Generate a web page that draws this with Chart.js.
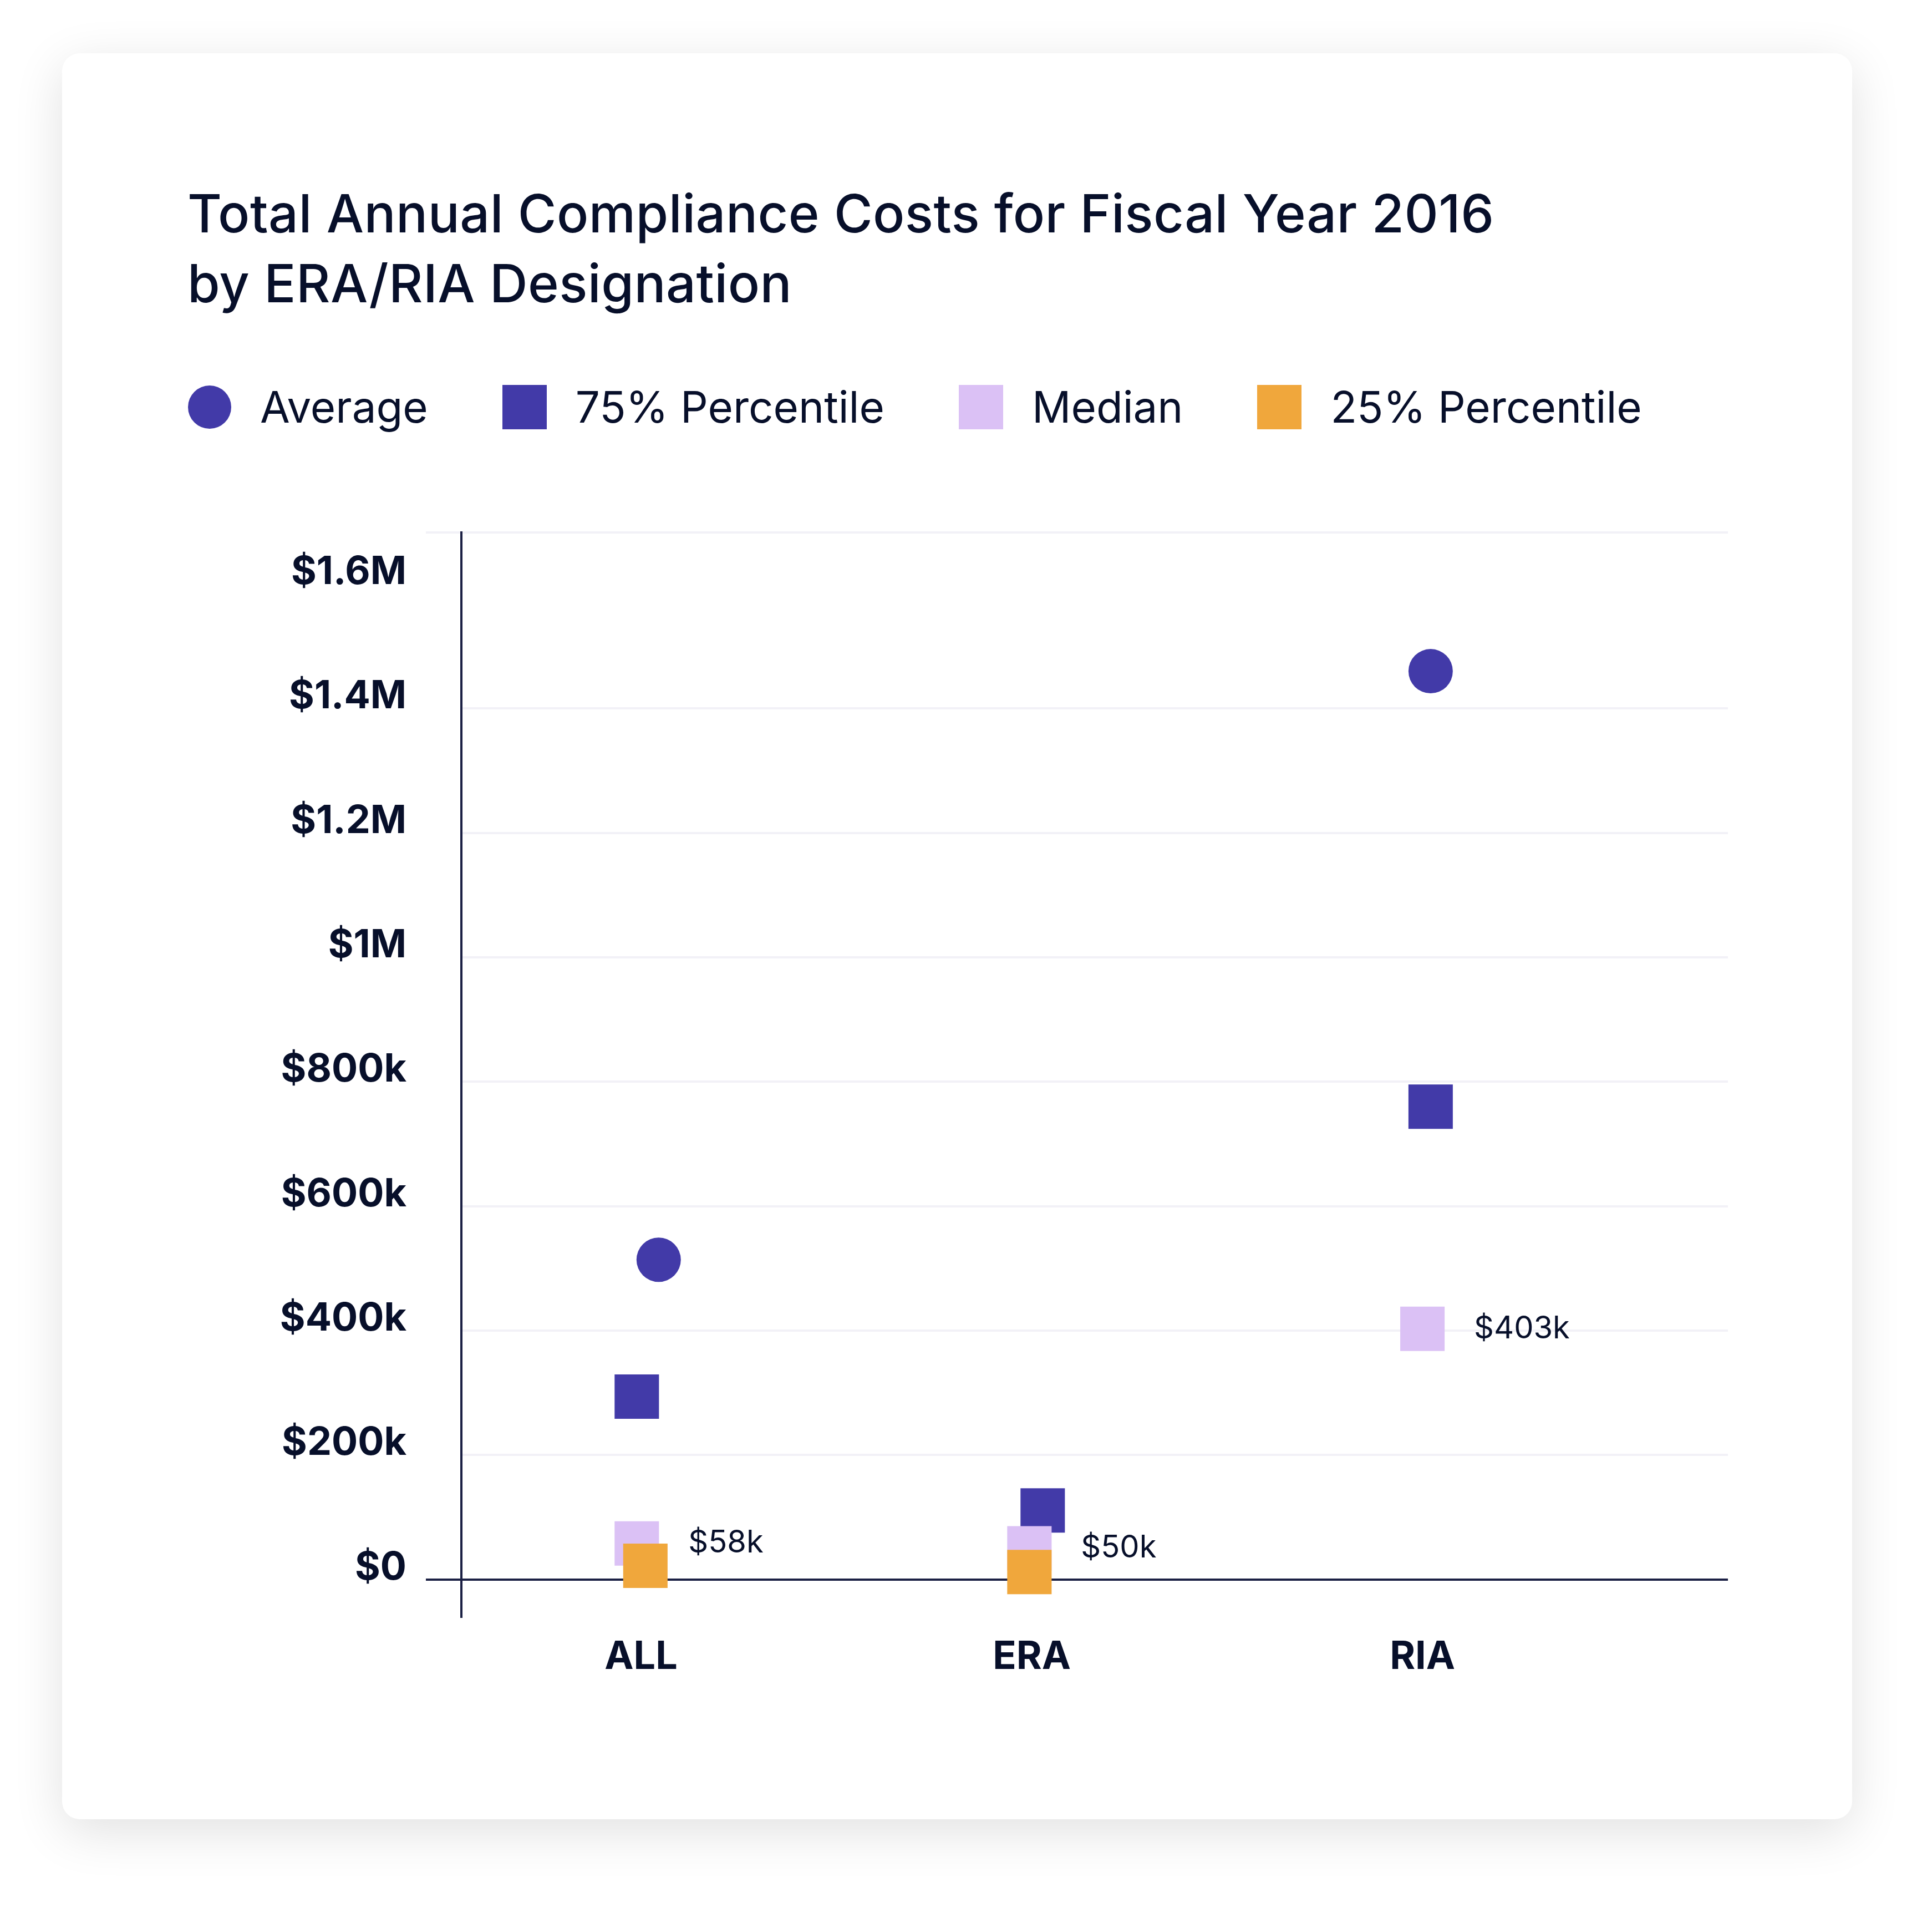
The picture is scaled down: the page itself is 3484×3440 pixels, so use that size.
<!DOCTYPE html>
<html>
<head>
<meta charset="utf-8">
<title>Total Annual Compliance Costs</title>
<script src="https://cdn.jsdelivr.net/npm/chart.js@4.4.1/dist/chart.umd.min.js"></script>
<style>
  html, body { margin: 0; padding: 0; background: #ffffff; }
  body { width: 3484px; height: 3440px; position: relative; font-family: Inter, "Noto Sans", sans-serif; color: #070f2a; }
  .card {
    position: absolute; left: 112px; top: 96px; width: 3228px; height: 3184px;
    background: #ffffff; border-radius: 32px;
    box-shadow: 0 22px 90px rgba(0, 0, 0, 0.12);
  }
  .title {
    position: absolute; left: 226px; top: 226px; margin: 0;
    font-size: 95px; font-weight: 500; line-height: 126px; white-space: nowrap;
    letter-spacing: 0.45px;
  }
  .legend {
    position: absolute; left: 227px; top: 598px; margin: 0; padding: 0;
    list-style: none; display: flex; align-items: center;
    font-size: 78px; font-weight: 400; line-height: 80px;
  }
  .legend li { display: flex; align-items: center; margin-right: 134px; }
  .legend .swatch { width: 80px; height: 80px; margin-right: 52px; }
  .legend .swatch.circle { width: 78px; height: 78px; border-radius: 50%; }
  .chart-box { position: absolute; left: 0; top: 760px; width: 3228px; height: 2424px; }
</style>
</head>
<body>
<div class="card">
  <h1 class="title">Total Annual Compliance Costs for Fiscal Year 2016<br>by ERA/RIA Designation</h1>
  <ul class="legend" id="legend"></ul>
  <div class="chart-box"><canvas id="costChart" width="3228" height="2424"></canvas></div>
</div>

<script>
// values (null = no marker drawn)
const categories   = ['ALL', 'ERA', 'RIA'];
const averageCost  = [514000, null, 1460000];
const p75Cost      = [294000, 111000, 760000];
const medianCost   = [58000, 50000, 403000];
const p25Cost      = [22000, 12000, null];
const medianLabels = ['$58k', '$50k', '$403k'];

const yTickValues = [0, 200000, 400000, 600000, 800000, 1000000, 1200000, 1400000, 1600000];
const yTickLabels = ['$0', '$200k', '$400k', '$600k', '$800k', '$1M', '$1.2M', '$1.4M', '$1.6M'];

// styling
const PURPLE = '#423aa8';
const LAVENDER = '#dbc1f5';
const ORANGE = '#f0a73c';
const AXIS = '#1b2044';
const GRID = '#f2f1f7';
const INK = '#070f2a';
const NONE = 'rgba(0,0,0,0)';

const Y_MIN = -60000, Y_MAX = 1683000;
const X_MIN = -0.46, X_MAX = 2.782;

// markers are nudged sideways a little inside each category, like the original
const nudge = {
  average: [0.045, 0, 0.021],
  p75:     [-0.011, 0.028, 0.021],
  median:  [-0.011, -0.006, 0],
  p25:     [0.011, -0.006, 0]
};

function toPoints(values, shift) {
  const pts = [];
  values.forEach((v, i) => {
    if (v !== null) pts.push({ x: i + shift[i], y: v, cat: i });
  });
  return pts;
}

const medianLabelPlugin = {
  id: 'medianLabels',
  afterDatasetsDraw(chart) {
    const meta = chart.getDatasetMeta(2);
    const ctx = chart.ctx;
    ctx.save();
    ctx.font = '400 56px Inter';
    ctx.fillStyle = INK;
    ctx.textBaseline = 'middle';
    ctx.textAlign = 'left';
    meta.data.forEach((pt, i) => {
      const raw = chart.data.datasets[2].data[i];
      ctx.fillText(medianLabels[raw.cat], pt.x + 93, pt.y);
    });
    ctx.restore();
  }
};

function buildLegend(chart) {
  const ul = document.getElementById('legend');
  chart.data.datasets.forEach(ds => {
    const li = document.createElement('li');
    const sw = document.createElement('span');
    sw.className = 'swatch' + (ds.pointStyle === 'circle' ? ' circle' : '');
    sw.style.background = ds.backgroundColor;
    li.appendChild(sw);
    li.appendChild(document.createTextNode(ds.label));
    ul.appendChild(li);
  });
}

function draw() {
  Chart.defaults.font.family = 'Inter';
  Chart.defaults.color = INK;

  const chart = new Chart(document.getElementById('costChart').getContext('2d'), {
    type: 'scatter',
    data: {
      datasets: [
        { label: 'Average', data: toPoints(averageCost, nudge.average), backgroundColor: PURPLE,
          pointStyle: 'circle', pointRadius: 40, order: 4 },
        { label: '75% Percentile', data: toPoints(p75Cost, nudge.p75), backgroundColor: PURPLE,
          pointStyle: 'rect', pointRadius: 56.6, order: 3 },
        { label: 'Median', data: toPoints(medianCost, nudge.median), backgroundColor: LAVENDER,
          pointStyle: 'rect', pointRadius: 56.6, order: 2 },
        { label: '25% Percentile', data: toPoints(p25Cost, nudge.p25), backgroundColor: ORANGE,
          pointStyle: 'rect', pointRadius: 56.6, order: 1 }
      ].map(ds => Object.assign(ds, { borderWidth: 0, pointHoverRadius: ds.pointRadius, clip: false }))
    },
    options: {
      responsive: false,
      animation: false,
      events: [],
      layout: { autoPadding: false, padding: { left: 300, right: 224, top: 104, bottom: 215 } },
      plugins: { legend: { display: false }, tooltip: { enabled: false } },
      scales: {
        x: {
          type: 'linear',
          min: X_MIN,
          max: X_MAX,
          afterBuildTicks: scale => { scale.ticks = categories.map((c, i) => ({ value: i })); },
          afterFit: scale => { scale.height = 150; },
          grid: { display: false, drawTicks: false },
          border: { display: false },
          ticks: {
            autoSkip: false, maxRotation: 0, padding: 31, color: INK,
            font: { size: 70, weight: 700 },
            callback: v => categories[v] !== undefined ? categories[v] : ''
          }
        },
        y: {
          type: 'linear',
          min: Y_MIN,
          max: Y_MAX,
          afterBuildTicks: scale => {
            scale.ticks = yTickValues.concat([Y_MAX]).map(v => ({ value: v }));
          },
          afterFit: scale => { scale.width = 420; },
          border: { display: true, color: AXIS, width: 4 },
          grid: {
            lineWidth: 4,
            tickLength: 64,
            color: c => {
              const v = c.tick.value;
              if (v === 0) return AXIS;
              if (v === 1600000) return NONE; // no rule under the top label
              return GRID;
            },
            tickColor: c => {
              const v = c.tick.value;
              if (v === 0) return AXIS;
              if (v === Y_MAX) return GRID;
              return NONE;
            }
          },
          ticks: {
            padding: 35, labelOffset: -21, color: INK,
            font: { size: 70, weight: 700 },
            callback: v => {
              const i = yTickValues.indexOf(v);
              return i >= 0 ? yTickLabels[i] : '';
            }
          }
        }
      }
    },
    plugins: [medianLabelPlugin]
  });

  buildLegend(chart);
}

document.fonts.ready.then(draw);
</script>
</body>
</html>
